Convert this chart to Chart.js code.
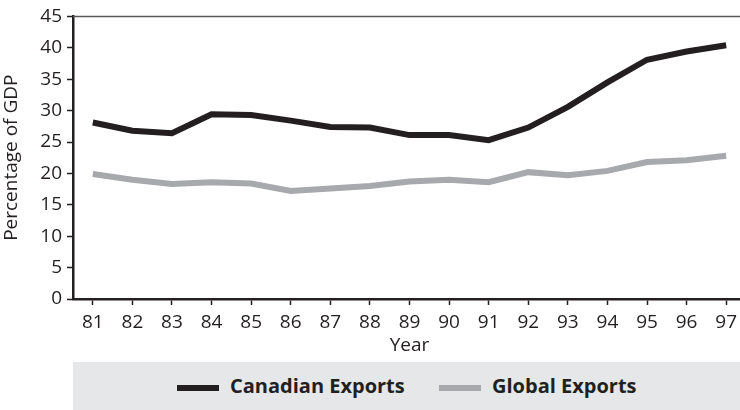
<!DOCTYPE html>
<html>
<head>
<meta charset="utf-8">
<script src="https://cdn.jsdelivr.net/npm/chart.js@4"></script>
<style>
  html, body { margin: 0; padding: 0; background: #fff; }
  #wrap { position: relative; width: 740px; height: 410px; overflow: hidden; }
  #chartBox { position: absolute; left: 0; top: 0; width: 746px; height: 362px; }
  #legend {
    position: absolute; left: 73px; top: 362px; width: 667px; height: 48px;
    background: #e6e7e8; font-family: "Open Sans", sans-serif; font-weight: bold;
    font-size: 20px; color: #231f20;
  }
  .item { position: absolute; top: 12px; height: 24px; line-height: 24px; white-space: nowrap; }
  .swatch { display: inline-block; width: 42px; height: 6px; vertical-align: middle; margin-right: 11px; }
</style>
</head>
<body>
<div id="wrap">
  <div id="chartBox"><canvas id="exportsChart"></canvas></div>
  <div id="legend"></div>
</div>
<script>
const years = ['81', '82', '83', '84', '85', '86', '87', '88', '89', '90', '91', '92', '93', '94', '95', '96', '97'];
const canadianExports = [28.1, 26.8, 26.4, 29.4, 29.3, 28.4, 27.4, 27.3, 26.1, 26.1, 25.3, 27.3, 30.6, 34.5, 38.1, 39.4, 40.4];
const globalExports = [19.9, 19.0, 18.3, 18.6, 18.4, 17.2, 17.6, 18.0, 18.7, 19.0, 18.6, 20.2, 19.7, 20.4, 21.8, 22.1, 22.8];
const seriesNames = ['Canadian Exports', 'Global Exports'];
const seriesColors = ['#231f20', '#a7a9ac'];
const yTicks = [0, 5, 10, 15, 20, 25, 30, 35, 40, 45];

const ink = '#231f20';
const tickFont = { family: '"Open Sans", sans-serif', size: 19 };

// top frame line across the plot
const topBorder = {
    id: 'topBorder',
    afterDraw(chart) {
        const ctx = chart.ctx;
        const area = chart.chartArea;
        ctx.save();
        ctx.strokeStyle = '#58595b';
        ctx.lineWidth = 1.5;
        ctx.beginPath();
        ctx.moveTo(area.left, area.top);
        ctx.lineTo(chart.width, area.top);
        ctx.stroke();
        ctx.restore();
    }
};

function renderChart() {
    const ctx = document.getElementById('exportsChart').getContext('2d');
    new Chart(ctx, {
        type: 'line',
        data: {
            labels: years,
            datasets: [
                {
                    label: seriesNames[0],
                    data: canadianExports,
                    borderColor: seriesColors[0],
                    borderWidth: 6,
                    pointRadius: 0,
                    tension: 0,
                },
                {
                    label: seriesNames[1],
                    data: globalExports,
                    borderColor: seriesColors[1],
                    borderWidth: 6,
                    pointRadius: 0,
                    tension: 0,
                },
            ],
        },
        options: {
            responsive: true,
            maintainAspectRatio: false,
            animation: false,
            layout: { padding: { top: 15, right: 0, left: 0, bottom: 0 } },
            plugins: {
                legend: { display: false },
                tooltip: { enabled: false },
            },
            scales: {
                x: {
                    offset: true,
                    afterFit: axis => { axis.height = 63; },
                    grid: { drawOnChartArea: false, drawTicks: true, tickLength: 6, tickColor: ink, tickWidth: 1.5 },
                    border: { display: true, color: ink, width: 2.5 },
                    ticks: { color: ink, font: tickFont, padding: 6, maxRotation: 0 },
                    title: { display: true, text: 'Year', color: ink, font: tickFont, padding: { top: 0, bottom: 5 } },
                },
                y: {
                    min: 0,
                    max: 45,
                    afterBuildTicks: axis => { axis.ticks = yTicks.map(v => ({ value: v })); },
                    afterFit: axis => { axis.width = 73; },
                    grid: { drawOnChartArea: false, drawTicks: true, tickLength: 6, tickColor: ink, tickWidth: 1.5 },
                    border: { display: true, color: ink, width: 2.5 },
                    ticks: { color: ink, font: tickFont, padding: 5 },
                    title: { display: true, text: 'Percentage of GDP', color: ink, font: tickFont, padding: { top: 0, bottom: 3 } },
                },
            },
        },
        plugins: [topBorder],
    });
}

function renderLegend() {
    const legend = document.getElementById('legend');
    const lefts = [104, 366];
    seriesNames.forEach((name, i) => {
        const item = document.createElement('div');
        item.classList.add('item');
        item.style.left = lefts[i] + 'px';
        const swatch = document.createElement('span');
        swatch.classList.add('swatch');
        swatch.style.background = seriesColors[i];
        item.appendChild(swatch);
        item.appendChild(document.createTextNode(name));
        legend.appendChild(item);
    });
}

renderChart();
renderLegend();
</script>
</body>
</html>
